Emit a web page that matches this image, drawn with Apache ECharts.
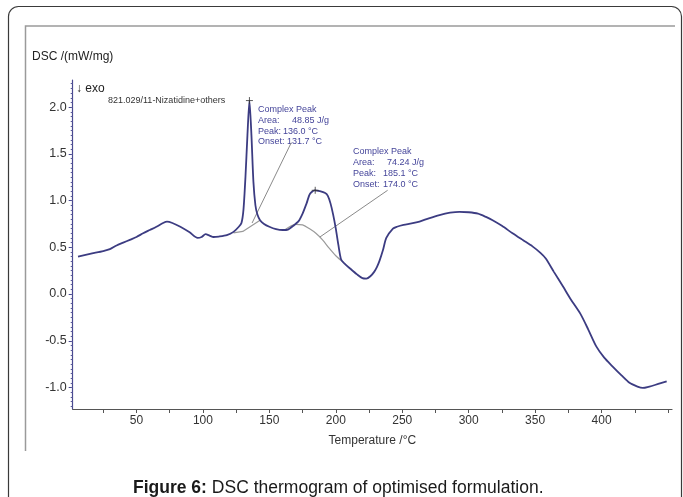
<!DOCTYPE html>
<html>
<head>
<meta charset="utf-8">
<script src="https://cdn.jsdelivr.net/npm/echarts@6/dist/echarts.min.js"></script>
<style>
html,body{margin:0;padding:0;background:#fff;}
#chart{width:683px;height:497px;}
</style>
</head>
<body>
<div id="chart"></div>
<script>
// ---- data ----
const mainTemp = [6, 15, 25, 30, 35, 40, 45, 50, 55, 60, 65, 70, 73, 77, 83, 90, 96, 99, 102, 105, 108, 112, 118, 123, 127, 129, 130.5, 132, 133.5, 135, 136.5, 138, 139.5, 141, 143, 146, 150, 155, 160, 164, 168, 172, 175, 178, 180.5, 184, 188, 192, 194, 196, 198, 200, 202, 204, 207, 211, 216, 220, 223, 226, 229, 231, 233, 235.5, 238, 243, 246, 251, 257, 263, 270, 278, 286, 293, 300, 307, 313, 318, 325, 333, 341, 348, 354, 358, 364, 371, 377, 384, 390, 396, 402, 408, 415, 421, 427, 431, 436, 442, 449];
const mainDsc  = [0.40, 0.43, 0.46, 0.48, 0.52, 0.55, 0.58, 0.61, 0.65, 0.685, 0.72, 0.76, 0.775, 0.76, 0.72, 0.66, 0.60, 0.61, 0.64, 0.625, 0.61, 0.615, 0.63, 0.665, 0.72, 0.76, 0.90, 1.25, 1.70, 2.07, 1.70, 1.20, 0.95, 0.85, 0.79, 0.75, 0.72, 0.695, 0.685, 0.69, 0.73, 0.78, 0.86, 0.97, 1.07, 1.11, 1.10, 1.08, 1.05, 0.97, 0.85, 0.70, 0.52, 0.37, 0.32, 0.27, 0.21, 0.17, 0.165, 0.19, 0.24, 0.29, 0.36, 0.47, 0.60, 0.70, 0.72, 0.74, 0.755, 0.775, 0.81, 0.845, 0.87, 0.88, 0.875, 0.86, 0.825, 0.79, 0.73, 0.65, 0.575, 0.51, 0.44, 0.38, 0.24, 0.08, -0.06, -0.21, -0.38, -0.56, -0.68, -0.77, -0.87, -0.95, -0.99, -1.005, -0.99, -0.965, -0.935];

const base1Temp = [123, 130, 143];
const base1Dsc  = [0.655, 0.67, 0.79];
const base2Temp = [162, 170, 175, 180, 185, 190, 195, 200, 206];
const base2Dsc  = [0.69, 0.745, 0.74, 0.70, 0.65, 0.58, 0.49, 0.41, 0.335];

const leader1Temp = [137, 166.5];
const leader1Dsc  = [0.76, 1.62];
const leader2Temp = [188, 239];
const leader2Dsc  = [0.61, 1.11];

const peakTemp = [135, 184.5];
const peakDsc  = [2.07, 1.11];

const xTickValues  = [25, 50, 75, 100, 125, 150, 175, 200, 225, 250, 275, 300, 325, 350, 375, 400, 425, 450];
const xLabelValues = [50, 100, 150, 200, 250, 300, 350, 400];
const yLabelValues = [-1.0, -0.5, 0.0, 0.5, 1.0, 1.5, 2.0];
const yMinorValues = [];
for (let i = -24; i <= 45; i++) yMinorValues.push(+(i * 0.05).toFixed(2));

const peak1Lines = ['Complex Peak', 'Area:', 'Peak:', 'Onset:'];
const peak1Vals  = ['', '48.85 J/g', '136.0 °C', '131.7 °C'];
const peak2Lines = ['Complex Peak', 'Area:', 'Peak:', 'Onset:'];
const peak2Vals  = ['', '74.24 J/g', '185.1 °C', '174.0 °C'];

// ---- helpers ----
const zip = (a, b) => a.map((v, i) => [v, b[i]]);
const FONT = "'Liberation Sans', Arial, sans-serif";
const NAVY = '#3c3c82';
const ANNO = '#45459a';

const chart = echarts.init(document.getElementById('chart'), null, {renderer: 'canvas'});

const graphics = [
  {type: 'rect', shape: {x: 8.5, y: 6.5, width: 673, height: 520, r: 10}, style: {fill: 'none', stroke: '#3a3a3a', lineWidth: 1.2}, silent: true, z: 0},
  {type: 'polyline', shape: {points: [[25.5, 451], [25.5, 26], [675, 26]]}, style: {fill: 'none', stroke: '#9a9a9a', lineWidth: 1.5}, silent: true},
  {type: 'text', x: 32, y: 57, style: {text: 'DSC /(mW/mg)', font: '12px ' + FONT, fill: '#222', textAlign: 'left', textVerticalAlign: 'middle'}},
  {type: 'text', x: 76, y: 89, style: {text: '↓ exo', font: '12px ' + FONT, fill: '#222', textAlign: 'left', textVerticalAlign: 'middle'}},
  {type: 'text', x: 108, y: 101, style: {text: '821.029/11-Nizatidine+others', font: '9px ' + FONT, fill: '#333', textAlign: 'left', textVerticalAlign: 'middle'}},
  {type: 'text', x: 133, y: 488, style: {text: 'Figure 6:', font: 'bold 17.5px ' + FONT, fill: '#1a1a1a', textAlign: 'left', textVerticalAlign: 'middle'}},
  {type: 'text', x: 207, y: 488, style: {text: ' DSC thermogram of optimised formulation.', font: '17.5px ' + FONT, fill: '#1a1a1a', textAlign: 'left', textVerticalAlign: 'middle'}}
];

function annoBlock(x, ys, labels, vals, valX) {
  labels.forEach((t, i) => {
    graphics.push({type: 'text', x: x, y: ys[i], style: {text: t, font: '9px ' + FONT, fill: ANNO, textAlign: 'left', textVerticalAlign: 'middle'}});
    if (vals[i]) graphics.push({type: 'text', x: valX[i], y: ys[i], style: {text: vals[i], font: '9px ' + FONT, fill: ANNO, textAlign: 'left', textVerticalAlign: 'middle'}});
  });
}
annoBlock(258, [110, 121, 132, 142], peak1Lines, peak1Vals, [0, 292, 283, 287]);
annoBlock(353, [152, 163, 174, 185], peak2Lines, peak2Vals, [0, 387, 383, 383]);

const option = {
  animation: false,
  backgroundColor: '#fff',
  grid: {left: 72.7, right: 11, top: 80, bottom: 88, containLabel: false},
  xAxis: {
    type: 'value', min: 2, max: 453,
    name: 'Temperature /°C', nameLocation: 'middle', nameGap: 26,
    nameTextStyle: {fontFamily: FONT, fontSize: 12, color: '#333'},
    axisLine: {show: true, onZero: false, lineStyle: {color: '#555', width: 1.2}},
    axisTick: {show: true, customValues: xTickValues, length: 4, inside: false, lineStyle: {color: '#555'}},
    axisLabel: {customValues: xLabelValues, fontFamily: FONT, fontSize: 12, color: '#333', margin: 6},
    splitLine: {show: false}
  },
  yAxis: [{
    type: 'value', min: -1.23, max: 2.29,
    axisLine: {show: true, onZero: false, lineStyle: {color: '#4a4a90', width: 1.2}},
    axisTick: {show: true, customValues: yLabelValues, length: 4, lineStyle: {color: '#4a4a90'}},
    axisLabel: {customValues: yLabelValues, formatter: v => v.toFixed(1), fontFamily: FONT, fontSize: 12.5, color: '#333', margin: 6},
    splitLine: {show: false}
  }, {
    type: 'value', min: -1.23, max: 2.29, position: 'left',
    axisLine: {show: false},
    axisTick: {show: true, customValues: yMinorValues, length: 2, lineStyle: {color: '#5a5a9a'}},
    axisLabel: {show: false},
    splitLine: {show: false}
  }],
  series: [
    {type: 'line', name: 'baseline1', data: zip(base1Temp, base1Dsc), showSymbol: false, silent: true, lineStyle: {color: '#9a9a9a', width: 1.2}, z: 2},
    {type: 'line', name: 'baseline2', data: zip(base2Temp, base2Dsc), showSymbol: false, silent: true, smooth: 0.3, lineStyle: {color: '#9a9a9a', width: 1.2}, z: 2},
    {type: 'line', name: 'leader1', data: zip(leader1Temp, leader1Dsc), showSymbol: false, silent: true, lineStyle: {color: '#8a8a8a', width: 1}, z: 2},
    {type: 'line', name: 'leader2', data: zip(leader2Temp, leader2Dsc), showSymbol: false, silent: true, lineStyle: {color: '#8a8a8a', width: 1}, z: 2},
    {type: 'line', name: 'DSC', data: zip(mainTemp, mainDsc), showSymbol: false, silent: true, smooth: 0.25, lineStyle: {color: NAVY, width: 1.8}, z: 3},
    {type: 'scatter', name: 'peaks', data: zip(peakTemp, peakDsc), symbol: 'path://M5,0L5,10M0,5L10,5', symbolSize: 7, silent: true,
     itemStyle: {color: 'none', borderColor: '#333', borderWidth: 1}, z: 4}
  ],
  graphic: graphics
};
chart.setOption(option);
</script>
</body>
</html>
